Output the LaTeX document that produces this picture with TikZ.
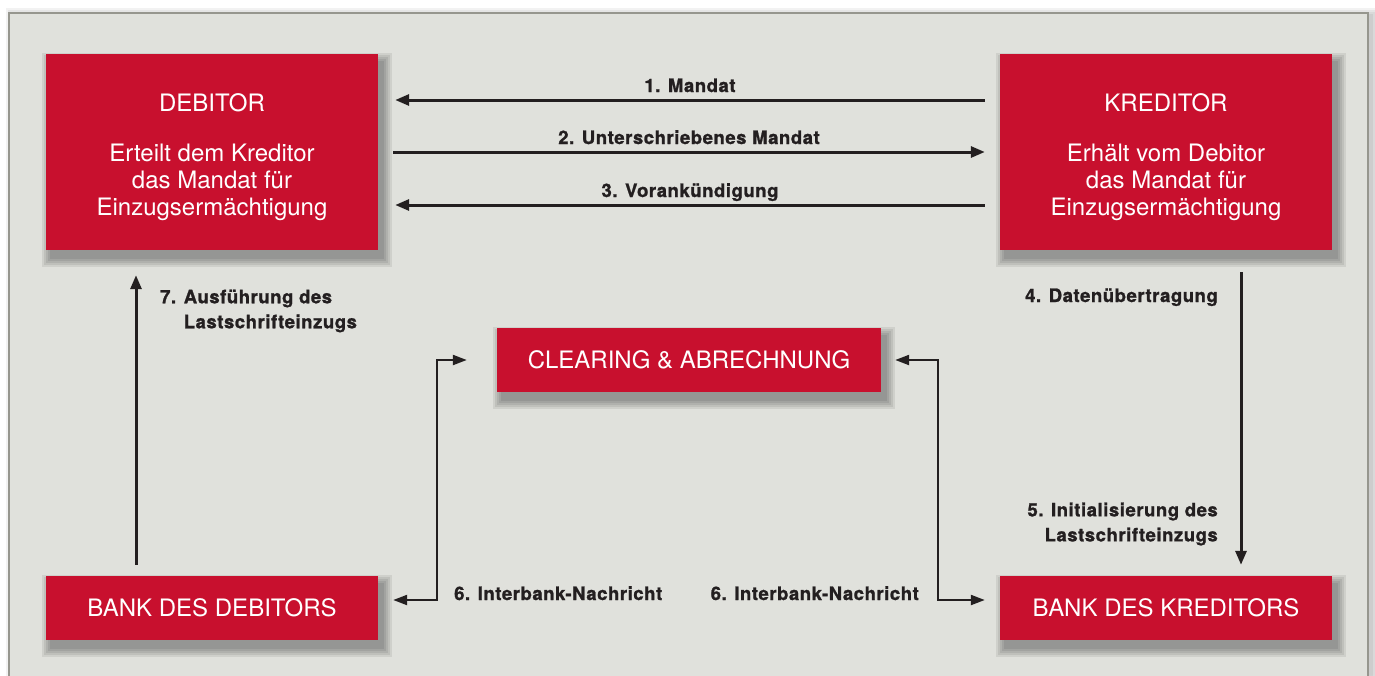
\documentclass[tikz,border=0pt]{standalone}
\usepackage{fontspec}
\setmainfont{TeX Gyre Heros}
\newfontfamily\lblfont[LetterSpace=3, BoldFeatures={FakeBold=1.2}]{TeX Gyre Heros}
\usetikzlibrary{arrows.meta}
\pgfdeclarelayer{panel}
\pgfdeclarelayer{shade}
\pgfsetlayers{panel,shade,main}
\definecolor{boxred}{RGB}{200,16,46}
\definecolor{panelbg}{RGB}{224,225,220}
\definecolor{panelline}{RGB}{150,150,142}
\definecolor{ink}{RGB}{35,31,32}
\tikzset{
  redbox/.style={fill=boxred, text=white, inner sep=0pt, align=center,
    font=\fontsize{24}{27}\selectfont},
  bigbox/.style={redbox, minimum width=332pt, minimum height=196pt},
  smallbox/.style={redbox, minimum width=332pt, minimum height=64pt},
  boxtext/.style={text=white, inner sep=0pt, align=center, font=\fontsize{24}{27}\selectfont},
  lbl/.style={text=ink, inner sep=0pt, font=\lblfont\bfseries\fontsize{18.5}{25}\selectfont},
  arr/.style={draw=ink, line width=3pt, -{Triangle[length=14pt,width=11pt]}},
  arrtwo/.style={draw=ink, line width=2.2pt, {Triangle[length=14pt,width=10pt]}-{Triangle[length=14pt,width=10pt]}},
  shadowpiece/.style={fill=black, opacity=0.075}
}
\begin{document}
\begin{tikzpicture}[x=1pt,y=-1pt]
\useasboundingbox (0,0) rectangle (1375,675);

\node[bigbox] (deb) at (212,152) {};
\node[boxtext] (debt) at ([yshift=-5pt]deb.center) {DEBITOR\\[23pt]Erteilt dem Kreditor\\das Mandat für\\Einzugsermächtigung};
\node[bigbox] (kred) at (1166,152) {};
\node[boxtext] (kredt) at ([yshift=-5pt]kred.center) {KREDITOR\\[23pt]Erhält vom Debitor\\das Mandat für\\Einzugsermächtigung};
\node[redbox, minimum width=384pt, minimum height=64pt] (clr) at (689,360) {CLEARING \& ABRECHNUNG};
\node[smallbox] (bdeb) at (212,608) {BANK DES DEBITORS};
\node[smallbox] (bkred) at (1166,608) {BANK DES KREDITORS};

\begin{pgfonlayer}{panel}
\fill[white] (0,0) rectangle (1375,675);
\foreach \d in {1,3,5,7}
  \fill[black, opacity=0.05] (9+4-\d,13+2-\d) rectangle (1368+4+\d,700);
\fill[panelbg] (9,13) rectangle (1368,700);
\draw[panelline, line width=1.2pt] (9,700) -- (9,13) -- (1368,13) -- (1368,700);
\end{pgfonlayer}

\begin{pgfonlayer}{shade}
\foreach \n in {deb,kred,clr,bdeb,bkred}{
  \foreach \d in {1,3,5,7,9}{
    \fill[shadowpiece] ([xshift=5pt-\d pt, yshift=-8pt+\d pt]\n.north west)
      rectangle ([xshift=5pt+\d pt, yshift=-8pt-\d pt]\n.south east);
  }
}
\end{pgfonlayer}

% 1-3
\draw[arr] ([xshift=-15pt]kred.west |- 0,100) -- ([xshift=17pt]deb.east |- 0,100)
  node[lbl, midway, anchor=base, yshift=8pt] (l1) {1. Mandat};
\draw[arr] ([xshift=15pt]deb.east) -- ([xshift=-15pt]kred.west)
  node[lbl, midway, anchor=base, yshift=8pt] (l2) {2. Unterschriebenes Mandat};
\draw[arr] ([xshift=-15pt]kred.west |- 0,205) -- ([xshift=17pt]deb.east |- 0,205)
  node[lbl, midway, anchor=base, yshift=8pt] (l3) {3. Vorankündigung};

% 4/5
\draw[arr] ([xshift=75pt,yshift=-22pt]kred.south) -- ([xshift=75pt,yshift=11pt]bkred.north);
\node[lbl, anchor=base east] (l4) at (1218,302) {4. Datenübertragung};
\node[lbl, anchor=east, align=right] (l5) at (1218,524) {5. Initialisierung des\\Lastschrifteinzugs};

% 7
\draw[arr] ([xshift=-76pt,yshift=11pt]bdeb.north) -- ([xshift=-76pt,yshift=-25pt]deb.south);
\node[lbl, anchor=west, align=left] (l7) at (160,311) {7. Ausführung des\\\hphantom{7. }Lastschrifteinzugs};

% 6
\draw[arrtwo] ([xshift=15pt,yshift=8pt]bdeb.east) -| ([xshift=-60pt]clr.west) -- ([xshift=-30pt]clr.west);
\draw[arrtwo] ([xshift=14pt]clr.east) -- ([xshift=57pt]clr.east) |- ([xshift=-15pt,yshift=8pt]bkred.west);
\node[lbl, anchor=base west] (l6a) at (454,600) {6. Interbank-Nachricht};
\node[lbl, anchor=base east] (l6b) at (919,600) {6. Interbank-Nachricht};
\end{tikzpicture}
\end{document}
